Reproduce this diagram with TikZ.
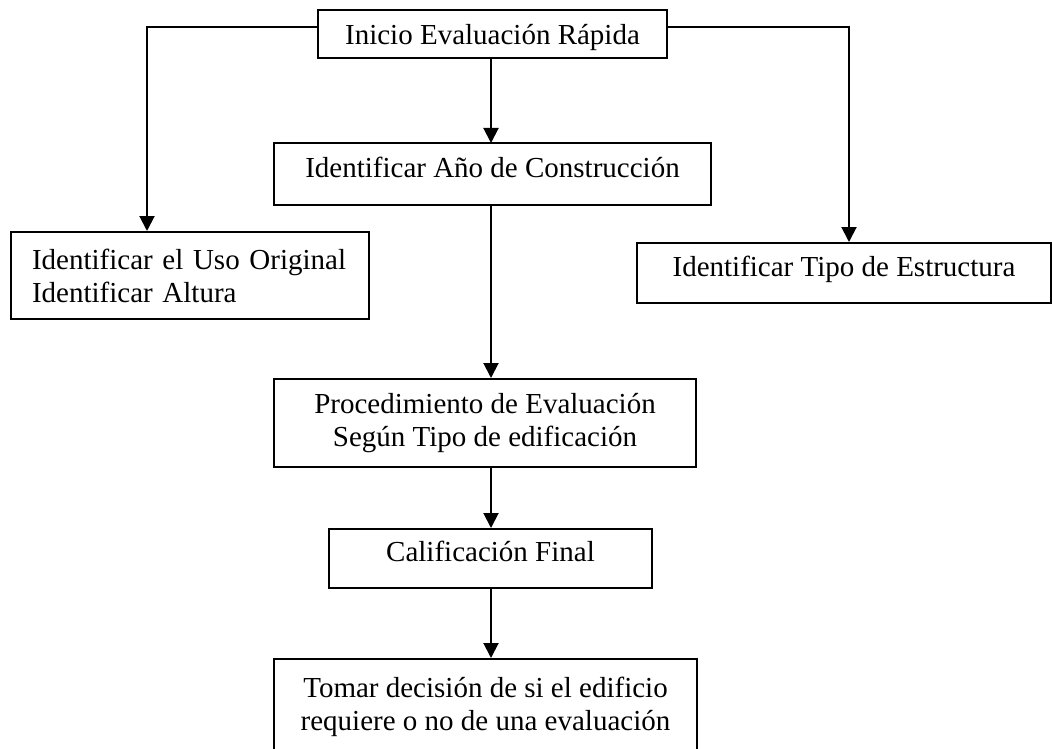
\documentclass[tikz,border=0pt]{standalone}
\usepackage{fontspec}
\setmainfont{Liberation Serif}
\usetikzlibrary{arrows.meta}
\begin{document}
\begin{tikzpicture}[x=1pt,y=-1pt,
  box/.style={draw=black,line width=2pt,rectangle,inner sep=0pt,align=center,
    font=\fontsize{29}{33}\selectfont},
  arr/.style={draw=black,line width=2pt,-{Triangle[width=15pt,length=15pt]}}]
  \useasboundingbox (0,0) rectangle (1052,749);

  % boxes (centres and sizes in pixel units, y growing downwards)
  \node[box,minimum width=349pt,minimum height=48pt,text depth=0pt] (top) at (492.5,34)
    {Inicio Evaluación Rápida};
  \node[box,minimum width=437pt,minimum height=62pt,text height=0.68em,text depth=0pt] (mid) at (492.5,174)
    {Identificar Año de Construcción};
  \node[box,minimum width=358pt,minimum height=87pt,text width=316pt,align=left] (left) at (190,275.5)
    {Identificar el Uso Original\\Identificar Altura};
  \node[box,minimum width=414pt,minimum height=60pt,text height=0.68em,text depth=0pt] (right) at (844,273)
    {Identificar Tipo de Estructura};
  \node[box,minimum width=422pt,minimum height=88pt] (proc) at (485,423)
    {Procedimiento de Evaluación\\Según Tipo de edificación};
  \node[box,minimum width=323pt,minimum height=59pt,text height=0.68em,text depth=0pt] (calif) at (490.5,558.5)
    {Calificación Final};
  \node[box,minimum width=423pt,minimum height=96pt] (dec) at (485.5,707)
    {Tomar decisión de si el edificio\\requiere o no de una evaluación};

  % connectors
  \draw[arr] (491,58) -- (491,143);
  \draw[arr] ([yshift=7pt]top.west) -| ([xshift=-43pt]left.north);
  \draw[arr] ([yshift=7pt]top.east) -| ([xshift=5pt]right.north);
  \draw[arr] (mid.south -| 491,0) -- (proc.north -| 491,0);
  \draw[arr] (proc.south -| 491,0) -- (calif.north -| 491,0);
  \draw[arr] (calif.south -| 491,0) -- (dec.north -| 491,0);
\end{tikzpicture}
\end{document}
